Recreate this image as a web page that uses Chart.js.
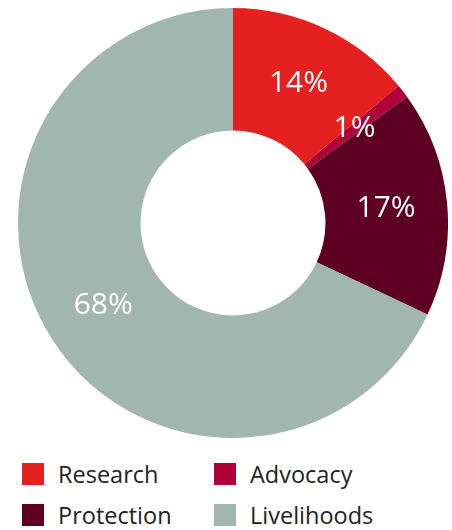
<!DOCTYPE html>
<html>
<head>
<meta charset="utf-8">
<script src="https://cdn.jsdelivr.net/npm/chart.js@4"></script>
<style>
    body{margin:0;background:#fff;font-family:"Open Sans",sans-serif;}
    #wrap{position:relative;width:452px;height:530px;}
    #chartBox{position:absolute;left:18px;top:8px;width:430px;height:430px;}
    #legend{position:absolute;left:22px;top:463px;width:430px;}
    .item{position:absolute;display:flex;align-items:center;font-size:23.5px;color:#222;line-height:22px;}
    .item span.box{display:inline-block;width:22px;height:22px;margin-right:14px;}
</style>
</head>
<body>
<div id="wrap">
    <div id="chartBox"><canvas id="donut"></canvas></div>
    <div id="legend"></div>
</div>
<script>
const labels = ["Research", "Advocacy", "Protection", "Livelihoods"];
const shares = [14, 1, 17, 68];
const colors = ["#E4211F", "#AF0238", "#5E0021", "#A1B6AE"];

// white "14%" etc on each slice
const sliceLabels = {
    id: "sliceLabels",
    afterDatasetsDraw(chart){
        const c = chart.ctx;
        const meta = chart.getDatasetMeta(0);
        c.save();
        c.fillStyle = "#fff";
        c.font = "30px 'Open Sans'";
        c.textAlign = "center";
        c.textBaseline = "middle";
        meta.data.forEach((arc, i) => {
            const p = arc.tooltipPosition();
            c.fillText(shares[i] + "%", p.x, p.y);
        });
        c.restore();
    }
};

new Chart(document.getElementById("donut"), {
    type: "doughnut",
    data: {
        labels: labels,
        datasets: [{
            data: shares,
            backgroundColor: colors,
            borderWidth: 0
        }]
    },
    options: {
        responsive: true,
        maintainAspectRatio: false,
        animation: false,
        cutout: "43%",
        layout: {padding: 0},
        plugins: {
            legend: {display: false},
            tooltip: {enabled: false}
        }
    },
    plugins: [sliceLabels]
});

// two-column legend
labels.forEach((name, i) => {
    const col = i % 2, row = Math.floor(i / 2);
    const el = document.createElement("div");
    el.className = "item";
    el.style.left = (col * 192) + "px";
    el.style.top = (row * 41) + "px";
    el.innerHTML = `<span class="box" style="background:${colors[i]}"></span>${name}`;
    document.getElementById("legend").appendChild(el);
});
</script>
</body>
</html>
